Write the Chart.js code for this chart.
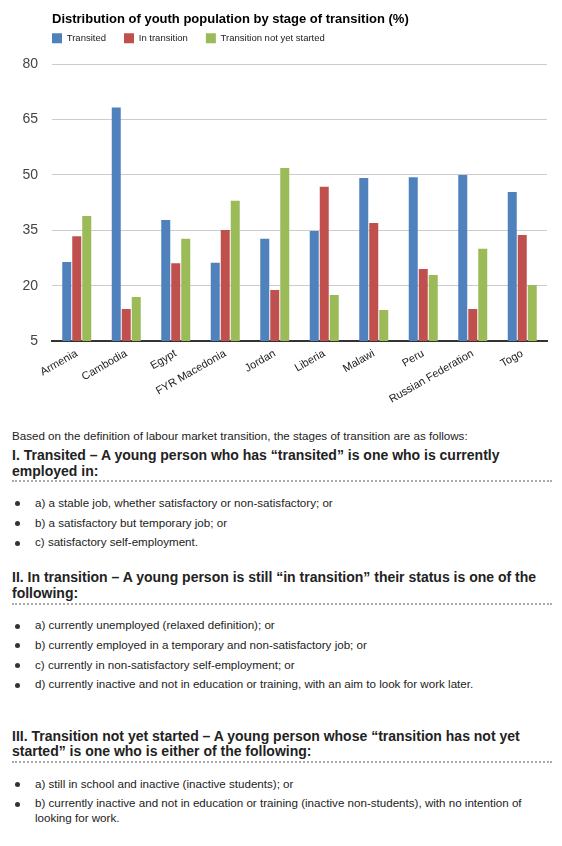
<!DOCTYPE html>
<html lang="en">

<head>
  <meta charset="UTF-8" />
  <meta name="viewport" content="width=device-width, initial-scale=1.0" />
  <title>Youth transition</title>
  <script src="https://cdn.jsdelivr.net/npm/chart.js"></script>
  <style>
    * {
      box-sizing: border-box
    }

    body {
      margin: 0;
      background: #fff;
      font-family: Arial, 'Liberation Sans', sans-serif;
      color: #222
    }

    .chart-box {
      position: relative;
      width: 562px;
      height: 405px
    }

    .notes {
      margin-left: 12px;
      width: 540px
    }

    .intro {
      font-size: 11.6px;
      line-height: 15px;
      margin: 22.5px 0 5.5px
    }

    h4 {
      font-size: 14px;
      font-weight: bold;
      line-height: 15.7px;
      margin: 0;
      padding-bottom: 1px;
      border-bottom: 2px dotted #aaa
    }

    h4.third {
      margin-top: 37.4px
    }

    ul {
      list-style: none;
      margin: 12.5px 0 20.7px;
      padding: 0
    }

    li {
      position: relative;
      font-size: 11.6px;
      line-height: 15px;
      margin-bottom: 4.75px;
      padding-left: 23px
    }

    li::before {
      content: '';
      position: absolute;
      left: 3px;
      top: 6.5px;
      width: 5px;
      height: 5px;
      border-radius: 50%;
      background: #333
    }
  </style>
</head>

<body>
  <div class="chart-box"><canvas id="grafico"></canvas></div>

  <div class="notes">
    <p class="intro">Based on the definition of labour market transition, the stages of transition are as follows:</p>
    <h4>I. Transited – A young person who has “transited” is one who is currently employed in:</h4>
    <ul>
      <li>a) a stable job, whether satisfactory or non-satisfactory; or</li>
      <li>b) a satisfactory but temporary job; or</li>
      <li>c) satisfactory self-employment.</li>
    </ul>
    <h4>II. In transition – A young person is still “in transition” their status is one of the following:</h4>
    <ul>
      <li>a) currently unemployed (relaxed definition); or</li>
      <li>b) currently employed in a temporary and non-satisfactory job; or</li>
      <li>c) currently in non-satisfactory self-employment; or</li>
      <li>d) currently inactive and not in education or training, with an aim to look for work later.</li>
    </ul>
    <h4 class="third">III. Transition not yet started – A young person whose “transition has not yet started” is one who is either of the following:</h4>
    <ul>
      <li>a) still in school and inactive (inactive students); or</li>
      <li>b) currently inactive and not in education or training (inactive non-students), with no intention of looking for work.</li>
    </ul>
  </div>

  <script>
    const paises = ['Armenia', 'Cambodia', 'Egypt', 'FYR Macedonia', 'Jordan', 'Liberia', 'Malawi', 'Peru', 'Russian Federation', 'Togo'];
    const transited = [26.4, 68.3, 37.8, 26.2, 32.7, 34.8, 49.2, 49.4, 50.0, 45.4];
    const inTransition = [33.4, 13.7, 26.1, 35.1, 18.8, 46.8, 37.0, 24.5, 13.7, 33.7];
    const notStarted = [38.9, 16.9, 32.7, 43.0, 51.9, 17.5, 13.4, 22.9, 30.0, 20.2];
    const seriesNames = ['Transited', 'In transition', 'Transition not yet started'];
    const seriesColors = ['#4f81bd', '#c0504d', '#9bbb59'];
    const yMin = 5, yMax = 80, yStep = 15;

    const fuente = "Arial, 'Liberation Sans', sans-serif";

    // nudge the legend so it lines up under the title like the original
    const legendShift = {
      id: 'legendShift',
      afterLayout(chart) {
        chart.legend.left -= 18;
        chart.legend.top -= 11;
      }
    };

    const series = [transited, inTransition, notStarted];
    const chartData = {
      labels: paises,
      datasets: series.map((vals, i) => ({
        label: seriesNames[i],
        data: vals,
        backgroundColor: seriesColors[i],
        borderWidth: 0,
        categoryPercentage: 0.606,
        barPercentage: 0.9
      }))
    };

    new Chart(document.getElementById('grafico'), {
      type: 'bar',
      data: chartData,
      plugins: [legendShift],
      options: {
        responsive: true,
        maintainAspectRatio: false,
        animation: false,
        events: [],
        layout: { padding: { left: 0, right: 15, top: 0, bottom: 0 } },
        plugins: {
          title: {
            display: true,
            text: 'Distribution of youth population by stage of transition (%)',
            align: 'start',
            fullSize: false,
            color: '#000',
            font: { family: fuente, size: 13, weight: 'bold', lineHeight: 1.1 },
            padding: { top: 12, bottom: 0 }
          },
          legend: {
            display: true,
            align: 'start',
            fullSize: false,
            labels: {
              boxWidth: 10,
              boxHeight: 10,
              padding: 18,
              color: '#222',
              font: { family: fuente, size: 9.5 }
            }
          },
          tooltip: { enabled: false }
        },
        scales: {
          x: {
            grid: { display: false, drawTicks: false },
            border: { display: true, color: '#333', width: 2 },
            ticks: {
              autoSkip: false,
              maxRotation: 30,
              minRotation: 30,
              padding: 6,
              color: '#222',
              font: { family: fuente, size: 11 }
            },
            afterFit(s) { s.height = 64; }
          },
          y: {
            min: yMin,
            max: yMax,
            grid: { color: '#ccc', drawTicks: false },
            border: { display: false },
            ticks: {
              stepSize: yStep,
              padding: 14,
              color: '#444',
              font: { family: fuente, size: 14 }
            },
            afterFit(s) { s.width = 52; }
          }
        }
      }
    });
  </script>
</body>

</html>
